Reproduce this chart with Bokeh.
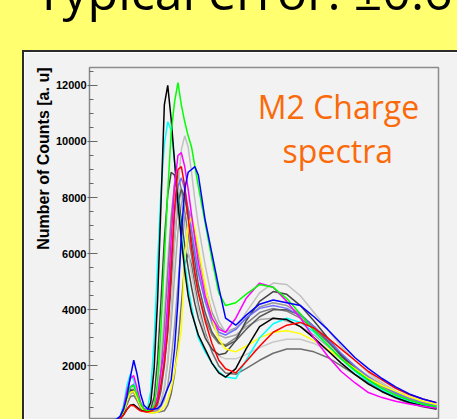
from bokeh.plotting import figure
from bokeh.models import Div, Label, Range1d, SingleIntervalTicker, Title
from bokeh.layouts import column, row
from bokeh.embed import file_html
from bokeh.resources import INLINE

# ---------------- data ----------------
channels = [0, 20, 30, 40, 45,
            50, 55, 60, 65, 70, 75, 80, 85, 90, 95,
            100, 105, 110, 115, 120, 125, 130, 135, 140, 145,
            150, 155, 160, 170, 180, 190, 200, 215, 230, 250,
            270, 290, 310, 330, 350, 370, 390, 410, 430, 450,
            470, 490, 510]

black_counts = [0, 10, 30, 60, 120,
                250, 450, 600, 620, 520, 420, 380, 400, 700, 1900,
                4300, 7700, 11300, 12000, 10800, 9300, 7800, 6500, 5400, 4500,
                3900, 3500, 3100, 2600, 2100, 1750, 1600, 1900, 2600, 3400,
                3700, 3650, 3400, 3000, 2550, 2100, 1700, 1350, 1080, 870,
                700, 570, 470]
cyan_counts = [0, 20, 40, 90, 200,
               600, 1300, 1700, 1500, 1000, 650, 480, 450, 1100, 2900,
               5600, 8200, 9900, 10700, 10400, 9300, 8000, 6700, 5700, 4800,
               4100, 3500, 3000, 2500, 2100, 1800, 1600, 1550, 2200, 3000,
               3500, 3700, 3550, 3200, 2750, 2250, 1800, 1450, 1150, 920,
               740, 600, 500]
green_counts = [0, 15, 35, 80, 150,
                400, 900, 1250, 1300, 1000, 650, 450, 400, 420, 600,
                1400, 3300, 5800, 8200, 10300, 11400, 12100, 11300, 10700, 10200,
                9800, 9100, 8400, 7100, 5800, 4600, 4150, 4250, 4550, 4900,
                4800, 4400, 3850, 3250, 2750, 2250, 1850, 1500, 1200, 960,
                780, 640, 540]
magenta_counts = [0, 15, 35, 80, 180,
                  500, 1100, 1550, 1650, 1200, 700, 480, 420, 430, 520,
                  900, 1800, 2600, 4300, 6500, 8400, 9500, 9600, 9100, 8300,
                  7400, 6500, 5700, 4500, 3700, 3300, 3200, 3700, 4400, 4950,
                  4800, 4300, 3700, 3000, 2350, 1800, 1400, 1050, 870, 740,
                  640, 560, 490]
red_counts = [0, 10, 30, 60, 120,
              250, 450, 600, 580, 480, 400, 370, 360, 380, 450,
              700, 1300, 2100, 3200, 5400, 7600, 9000, 9100, 8400, 7300,
              6200, 5300, 4600, 3600, 2800, 2200, 1900, 1750, 2150, 2700,
              3200, 3450, 3550, 3350, 3000, 2600, 2200, 1800, 1500, 1200,
              980, 820, 690]
blue_counts = [0, 20, 40, 100, 200,
               450, 900, 1600, 2200, 1700, 1000, 600, 480, 450, 460,
               480, 600, 900, 1200, 1500, 2600, 4300, 6700, 8300, 8900,
               9000, 9100, 8800, 7200, 6000, 4800, 3700, 3450, 3800, 4200,
               4350, 4250, 4150, 3750, 3300, 2800, 2300, 1900, 1550, 1250,
               1000, 820, 690]
yellow_counts = [0, 10, 30, 70, 150,
                 350, 750, 1050, 1100, 850, 550, 400, 350, 330, 330,
                 350, 420, 550, 800, 1200, 1800, 2500, 3300, 5800, 7000,
                 7300, 6900, 6200, 4900, 3700, 2950, 2600, 2500, 2700, 3000,
                 3200, 3250, 3150, 2900, 2600, 2250, 1900, 1550, 1300, 1100,
                 900, 740, 620]
slate_counts = [0, 15, 35, 80, 160,
                400, 850, 1250, 1350, 1050, 650, 470, 430, 420, 460,
                700, 1300, 2300, 3800, 5700, 7400, 8400, 8700, 8300, 7600,
                6800, 6000, 5300, 4300, 3600, 3200, 3100, 3300, 3700, 4050,
                4150, 4050, 3800, 3400, 2950, 2450, 2000, 1600, 1300, 1050,
                850, 700, 590]
gray_a_counts = [0, 15, 35, 75, 150,
                 380, 800, 1200, 1250, 950, 600, 440, 400, 390, 420,
                 500, 750, 1200, 2200, 4000, 6300, 8300, 9700, 10200, 9800,
                 8900, 7900, 7000, 5600, 4400, 3600, 3200, 3300, 3900, 4600,
                 4950, 4900, 4500, 3900, 3300, 2700, 2200, 1750, 1400, 1100,
                 880, 720, 600]
gray_b_counts = [0, 15, 35, 80, 160,
                 420, 850, 1150, 1100, 850, 560, 430, 420, 450, 900,
                 2200, 4300, 6500, 8100, 8900, 8800, 8100, 7200, 6300, 5500,
                 4800, 4200, 3700, 3000, 2600, 2400, 2450, 2900, 3600, 4300,
                 4650, 4550, 4150, 3600, 3000, 2400, 1900, 1500, 1150, 900,
                 720, 590, 490]
gray_c_counts = [0, 15, 35, 75, 150,
                 380, 780, 1100, 1150, 900, 580, 430, 400, 390, 400,
                 800, 1800, 3400, 5300, 7200, 8500, 8800, 8300, 7500, 6700,
                 5900, 5200, 4600, 3700, 3100, 2800, 2750, 3000, 3500, 3900,
                 4050, 3950, 3700, 3300, 2850, 2400, 1950, 1600, 1300, 1050,
                 850, 700, 580]
gray_d_counts = [0, 15, 35, 70, 140,
                 350, 720, 1000, 1050, 820, 540, 410, 380, 370, 380,
                 450, 700, 1200, 2100, 3500, 5200, 6800, 7800, 8000, 7600,
                 6900, 6100, 5400, 4300, 3500, 3100, 3000, 3100, 3400, 3650,
                 3700, 3600, 3400, 3100, 2700, 2300, 1900, 1550, 1250, 1000,
                 820, 680, 570]
gray_e_counts = [0, 10, 30, 60, 120,
                 300, 620, 900, 950, 760, 500, 380, 350, 340, 340,
                 350, 370, 400, 600, 1000, 1700, 2800, 4200, 5600, 6000,
                 5600, 4900, 4200, 3200, 2500, 2000, 1750, 1700, 1900, 2200,
                 2450, 2600, 2600, 2500, 2300, 2000, 1700, 1400, 1150, 930,
                 760, 620, 520]
gray_f_counts = [0, 15, 35, 75, 150,
                 380, 800, 1150, 1200, 920, 580, 440, 420, 420, 600,
                 1200, 2400, 4000, 5800, 7400, 8400, 8500, 7900, 7000, 6100,
                 5300, 4600, 4000, 3100, 2600, 2350, 2250, 2250, 2400, 2650,
                 2850, 2950, 2950, 2800, 2550, 2250, 1950, 1650, 1350, 1100,
                 900, 740, 620]
gray_g_counts = [0, 15, 35, 75, 150,
                 380, 780, 1100, 1150, 880, 560, 420, 400, 400, 420,
                 600, 1100, 2000, 3300, 4900, 6500, 7800, 8300, 8000, 7300,
                 6500, 5700, 4900, 3900, 3200, 2850, 2700, 2900, 3300, 3750,
                 4000, 4000, 3800, 3400, 2900, 2350, 1850, 1450, 1100, 850,
                 670, 540, 450]
gray_h_counts = [0, 15, 35, 70, 140,
                 360, 740, 1050, 1100, 850, 550, 420, 390, 380, 390,
                 400, 550, 800, 1300, 2200, 3400, 4900, 6300, 7300, 7600,
                 7300, 6700, 6000, 4800, 3900, 3400, 3200, 3350, 3700, 4100,
                 4250, 4150, 3850, 3400, 2900, 2400, 1950, 1550, 1250, 1000,
                 800, 660, 550]

y_ticks_interval = 2000
slide_title = "Typical error: \u00b10.6"
y_title = "Number of Counts [a. u]"
note_line1 = "M2 Charge"
note_line2 = "spectra"

# drawing order: greys first, colours on top
series = [
    (gray_e_counts, "#6E6E6E"),
    (gray_f_counts, "#C8C8C8"),
    (gray_d_counts, "#A9A9A9"),
    (gray_h_counts, "#9A9A9A"),
    (gray_c_counts, "#808080"),
    (gray_g_counts, "#5A5A5A"),
    (gray_a_counts, "#C0C0C0"),
    (gray_b_counts, "#444444"),
    (slate_counts, "#7070FF"),
    (yellow_counts, "#FFFF00"),
    (cyan_counts, "#00FFFF"),
    (black_counts, "#000000"),
    (magenta_counts, "#FF00FF"),
    (green_counts, "#00FF00"),
    (red_counts, "#FF0000"),
    (blue_counts, "#0000FF"),
]

# ---------------- styling ----------------
YELLOW = "#FFFF70"
PANEL = "#F2F2F2"
DARK = "#2B2B2B"
ORANGE = "#FA6A0A"

p = figure(width=433, height=367, output_backend="svg", toolbar_location=None,
           x_range=Range1d(0, 513), y_range=Range1d(89, 12635),
           x_axis_location=None,
           min_border_left=65, min_border_right=19, min_border_top=15,
           min_border_bottom=0,
           background_fill_color=PANEL, border_fill_color=PANEL,
           outline_line_color="#8C8C8C", outline_line_width=1.5)
p.grid.visible = False

for counts, col in series:
    p.line(channels, counts, line_color=col, line_width=1.5)

yax = p.yaxis[0]
yax.ticker = SingleIntervalTicker(interval=y_ticks_interval, num_minor_ticks=4)
yax.major_label_text_font = "Liberation Sans"
yax.major_label_text_font_style = "bold"
yax.major_label_text_font_size = "11px"
yax.major_label_text_color = "#000000"
yax.major_label_standoff = 1
yax.major_tick_in = 8
yax.major_tick_out = 2
yax.minor_tick_in = 4
yax.minor_tick_out = 0
yax.axis_line_color = "#888888"
yax.major_tick_line_color = "#666666"
yax.minor_tick_line_color = "#666666"

p.add_layout(Title(text=y_title, align="right", text_font="Liberation Sans",
                   text_font_style="bold", text_font_size="16px",
                   text_color="#000000", standoff=2), "left")

p.add_layout(Label(x=366, y=11236, text=note_line1, text_align="center",
                   text_baseline="alphabetic", text_font="Open Sans",
                   text_font_size="32px", text_color=ORANGE))
p.add_layout(Label(x=365, y=9669, text=note_line2, text_align="center",
                   text_baseline="alphabetic", text_font="Open Sans",
                   text_font_size="32px", text_color=ORANGE))

title_html = ('<div style="position:relative; top:-34px; left:35px; '
              'font-family:\'Open Sans\'; font-size:50px; line-height:50px; '
              'white-space:nowrap; color:#000;">' + slide_title + '</div>')

top = Div(text=title_html, width=457, height=50, margin=0,
          styles={"background-color": YELLOW, "overflow": "hidden"})
border_row = row(Div(text="", width=22, height=2, margin=0,
                     styles={"background-color": YELLOW}),
                 Div(text="", width=435, height=2, margin=0,
                     styles={"background-color": DARK}),
                 spacing=0)
main_row = row(Div(text="", width=22, height=367, margin=0,
                   styles={"background-color": YELLOW}),
               Div(text="", width=2, height=367, margin=0,
                   styles={"background-color": DARK}),
               p, spacing=0)
layout = column(top, border_row, main_row, spacing=0)

open("out.html", "w").write(file_html(layout, INLINE))
